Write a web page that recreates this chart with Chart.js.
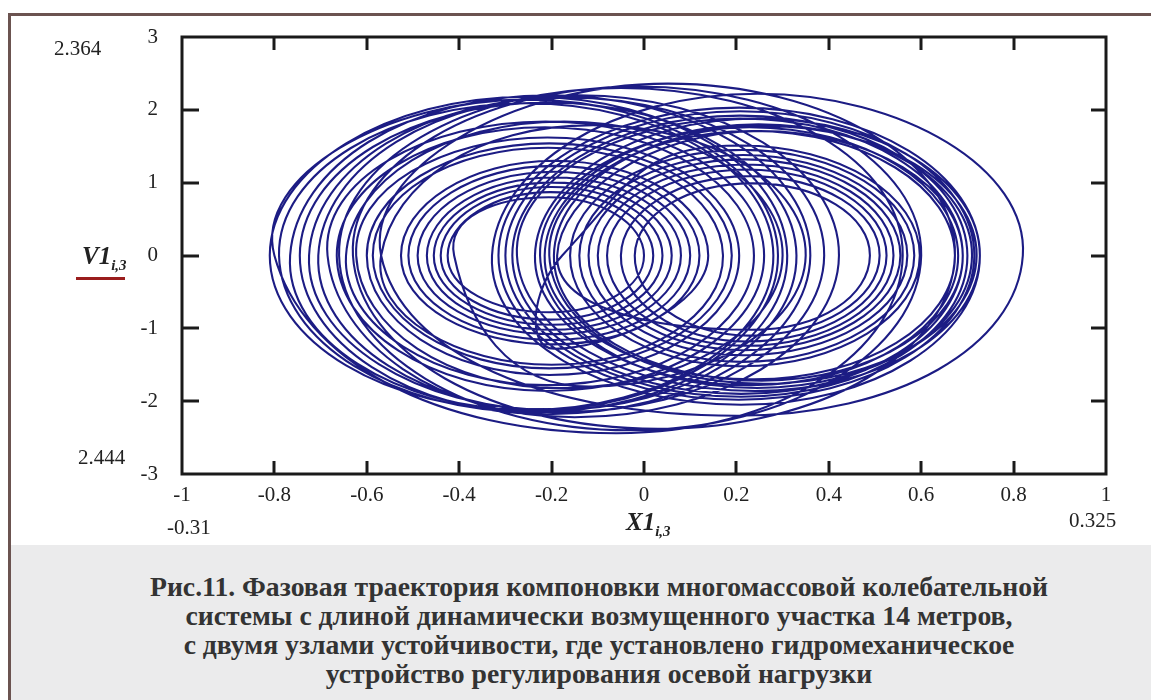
<!DOCTYPE html>
<html><head><meta charset="utf-8">
<script src="https://cdn.jsdelivr.net/npm/chart.js@4.4.1/dist/chart.umd.min.js"></script>
<style>
html,body{margin:0;padding:0;background:#ffffff;width:1151px;height:700px;overflow:hidden;}
#frame{position:absolute;left:8px;top:13px;width:1150px;height:700px;border-left:3px solid #6b5350;border-top:3px solid #6b5350;box-sizing:border-box;}
#band{position:absolute;left:11px;top:545px;width:1140px;height:155px;background:#ebebec;overflow:hidden;}
#caption{position:absolute;left:0;top:27px;width:1176px;text-align:center;font-family:"Liberation Serif",serif;font-weight:bold;font-size:27.7px;line-height:29px;color:#333333;}
#chart{position:absolute;left:0;top:0;}
.lab{position:absolute;font-family:"Liberation Serif",serif;font-size:21px;color:#222;white-space:nowrap;line-height:1;}
.axt{position:absolute;font-family:"Liberation Serif",serif;font-weight:bold;font-style:italic;font-size:25px;color:#222;white-space:nowrap;line-height:1;}
.axt sub{font-size:15px;vertical-align:baseline;position:relative;top:6px;}
#redline{position:absolute;left:76px;top:277px;width:49px;height:3px;background:#9a1d1d;}
</style></head>
<body>
<div id="frame"></div>
<canvas id="chart" width="1151" height="545"></canvas>
<div class="lab" style="left:54px;top:38px;">2.364</div>
<div class="lab" style="left:78px;top:447px;">2.444</div>
<div class="lab" style="left:167px;top:517px;">-0.31</div>
<div class="lab" style="left:1069px;top:510px;">0.325</div>
<div class="axt" style="left:82px;top:243px;">V1<sub>i,3</sub></div>
<div id="redline"></div>
<div class="axt" style="left:626px;top:509px;">X1<sub>i,3</sub></div>
<div id="band"><div id="caption">Рис.11. Фазовая траектория компоновки многомассовой колебательной<br>системы с длиной динамически возмущенного участка 14 метров,<br>с двумя узлами устойчивости, где установлено гидромеханическое<br>устройство регулирования осевой нагрузки</div></div>
<script>
// Loops of the phase trajectory, in trajectory order:
// X where the loop crosses V=0 on the left, its top (X, V), X where it crosses V=0 on the right, its bottom (X, V)
const loopLeft    = [-0.81,-0.79,-0.766,-0.745,-0.725,-0.705,-0.685,-0.665,-0.645,-0.623,-0.60,-0.587,-0.569,
                     -0.411,-0.425,-0.44,-0.455,-0.47,-0.49,-0.51,-0.526,
                     -0.177,-0.16,-0.14,-0.12,-0.10,-0.08,-0.05,-0.02,
                     -0.188,-0.195,-0.205,-0.215,-0.225,-0.236,-0.275,-0.285,-0.30,-0.315,-0.329,
                     -0.569,-0.63,-0.66,-0.80];
const loopRight   = [0.31,0.28,0.36,0.33,0.39,0.422,0.26,0.238,0.30,0.206,0.19,0.171,0.35,
                     0.0,0.02,0.04,0.06,0.08,0.10,0.12,0.139,
                     0.597,0.585,0.57,0.555,0.54,0.525,0.51,0.489,
                     0.69,0.72,0.673,0.71,0.68,0.727,0.69,0.70,0.715,0.727,0.82,
                     0.673,0.60,0.56,0.29];
const loopTopX    = [-0.25,-0.255,-0.203,-0.208,-0.168,-0.142,-0.213,-0.214,-0.173,-0.209,-0.205,-0.208,-0.110,
                     -0.206,-0.203,-0.200,-0.198,-0.195,-0.195,-0.195,-0.194,
                     0.210,0.213,0.215,0.218,0.220,0.223,0.230,0.235,
                     0.251,0.263,0.234,0.248,0.228,0.246,0.208,0.208,0.208,0.206,0.246,
                     0.052,-0.015,-0.05,-0.255];
const loopTop     = [2.18,2.09,2.20,2.10,2.17,2.20,1.84,1.76,1.84,1.62,1.54,1.48,1.79,
                     0.80,0.87,0.94,1.00,1.07,1.15,1.23,1.30,
                     1.51,1.45,1.38,1.32,1.25,1.18,1.09,0.99,
                     1.71,1.78,1.71,1.80,1.76,1.88,1.88,1.92,1.98,2.03,2.22,
                     2.36,2.32,2.30,2.14];
const loopBottomX = [-0.24,-0.25,-0.21,-0.20,-0.175,-0.15,-0.21,-0.21,-0.18,-0.205,-0.205,-0.20,-0.12,
                     -0.205,-0.203,-0.200,-0.198,-0.197,-0.195,-0.195,-0.195,
                     0.210,0.211,0.214,0.216,0.220,0.222,0.228,0.232,
                     0.255,0.258,0.238,0.244,0.232,0.24,0.21,0.21,0.205,0.21,0.20,
                     0.03,-0.03,-0.06,-0.25];
const loopBottom  = [-2.15,-2.12,-2.18,-2.12,-2.15,-2.22,-1.86,-1.78,-1.82,-1.64,-1.55,-1.50,-1.80,
                     -0.78,-0.88,-0.95,-1.02,-1.08,-1.16,-1.22,-1.28,
                     -1.52,-1.46,-1.37,-1.30,-1.24,-1.18,-1.10,-1.02,
                     -1.72,-1.76,-1.70,-1.82,-1.78,-1.86,-1.90,-1.94,-1.98,-2.05,-2.20,
                     -2.38,-2.40,-2.44,-2.13];
const xTickLabels = ['-1','-0.8','-0.6','-0.4','-0.2','0','0.2','0.4','0.6','0.8','1'];
const yTickLabels = ['-3','-2','-1','0','1','2','3'];

// The trajectory closes on itself: the last loop runs into the first one.
// One extra point is repeated at each end only so the curve keeps its direction there (those pieces are not drawn).
const n = loopLeft.length;
const trajectory = [{x: loopRight[n - 1], y: 0}, {x: loopBottomX[n - 1], y: loopBottom[n - 1]}];
for (let k = 0; k < n; k++) {
  trajectory.push({x: loopLeft[k], y: 0});
  trajectory.push({x: loopTopX[k], y: loopTop[k]});
  trajectory.push({x: loopRight[k], y: 0});
  trajectory.push({x: loopBottomX[k], y: loopBottom[k]});
}
trajectory.push({x: loopLeft[0], y: 0});
trajectory.push({x: loopTopX[0], y: loopTop[0]});
const lastIndex = trajectory.length - 1;

const frameTicks = {
  id: 'frameTicks',
  afterDatasetsDraw(chart) {
    const {ctx, chartArea: a, scales: {x, y}} = chart;
    ctx.save();
    ctx.strokeStyle = '#1a1a1a';
    ctx.lineWidth = 3;
    ctx.lineCap = 'butt';
    x.ticks.forEach((t, i) => {
      if (i === 0 || i === x.ticks.length - 1) return;
      const px = Math.round(x.getPixelForValue(t.value));
      ctx.beginPath(); ctx.moveTo(px, a.bottom); ctx.lineTo(px, a.bottom - 13); ctx.stroke();
      ctx.beginPath(); ctx.moveTo(px, a.top); ctx.lineTo(px, a.top + 13); ctx.stroke();
    });
    y.ticks.forEach((t, i) => {
      if (i === 0 || i === y.ticks.length - 1) return;
      const py = Math.round(y.getPixelForValue(t.value));
      ctx.beginPath(); ctx.moveTo(a.left, py); ctx.lineTo(a.left + 17, py); ctx.stroke();
      ctx.beginPath(); ctx.moveTo(a.right, py); ctx.lineTo(a.right - 15, py); ctx.stroke();
    });
    ctx.strokeRect(a.left, a.top, a.right - a.left, a.bottom - a.top);
    ctx.restore();
  }
};

new Chart(document.getElementById('chart'), {
  type: 'scatter',
  data: {datasets: [{
    data: trajectory, showLine: true, borderColor: '#1c1c84', borderWidth: 2.1,
    pointRadius: 0, tension: 0.55, fill: false,
    segment: {
      borderColor: c => (c.p0DataIndex === 0 || c.p1DataIndex === lastIndex) ? 'rgba(0,0,0,0)' : undefined
    }
  }]},
  options: {
    responsive: false, animation: false,
    layout: {padding: {left: 0, right: 45, top: 37, bottom: 0}},
    plugins: {legend: {display: false}, tooltip: {enabled: false}},
    scales: {
      x: {
        type: 'linear', min: -1, max: 1,
        grid: {display: false, drawTicks: false}, border: {display: false},
        ticks: {stepSize: 0.2, padding: 9, color: '#222', font: {family: 'Liberation Serif', size: 21},
          maxRotation: 0, autoSkip: false, callback: (v, i) => xTickLabels[i]},
        afterFit(s) { s.height = 71; }
      },
      y: {
        type: 'linear', min: -3, max: 3,
        grid: {display: false, drawTicks: false}, border: {display: false},
        ticks: {stepSize: 1, padding: 24, color: '#222', font: {family: 'Liberation Serif', size: 21},
          callback: (v, i) => yTickLabels[i]},
        afterFit(s) { s.width = 182; }
      }
    }
  },
  plugins: [frameTicks]
});
</script>
</body></html>
